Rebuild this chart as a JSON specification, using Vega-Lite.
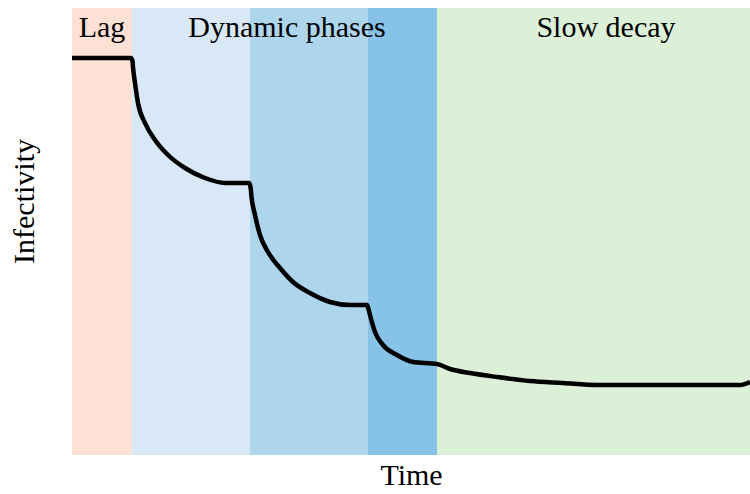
{
  "$schema": "https://vega.github.io/schema/vega-lite/v6.json",
  "autosize": {"type": "none"},
  "width": 678,
  "height": 447,
  "padding": {"left": 72, "top": 8, "right": 0, "bottom": 39},
  "config": {
    "view": {"stroke": null},
    "text": {"font": "Liberation Serif"},
    "axis": {"titleFont": "Liberation Serif"}
  },
  "data": {"values": [
      {"kind": "band", "start": 0, "end": 60, "color": "#fde1d4"},
      {"kind": "band", "start": 60, "end": 178, "color": "#d9e8f6"},
      {"kind": "band", "start": 178, "end": 296, "color": "#add5ec"},
      {"kind": "band", "start": 296, "end": 365, "color": "#87c2e7"},
      {"kind": "band", "start": 365, "end": 678, "color": "#dcefd7"},
      {"kind": "label", "x": 30, "y": 418, "label": "Lag"},
      {"kind": "label", "x": 215, "y": 418, "label": "Dynamic phases"},
      {"kind": "label", "x": 534, "y": 418, "label": "Slow decay"},
      {"kind": "curve", "t": 0, "v": 397}, {"kind": "curve", "t": 59, "v": 397}, {"kind": "curve", "t": 60.5, "v": 394}, {"kind": "curve", "t": 61, "v": 388},
      {"kind": "curve", "t": 63, "v": 372}, {"kind": "curve", "t": 66, "v": 352}, {"kind": "curve", "t": 73, "v": 332}, {"kind": "curve", "t": 83, "v": 315},
      {"kind": "curve", "t": 96, "v": 300}, {"kind": "curve", "t": 113, "v": 287}, {"kind": "curve", "t": 133, "v": 277}, {"kind": "curve", "t": 153, "v": 272},
      {"kind": "curve", "t": 177, "v": 272}, {"kind": "curve", "t": 178.5, "v": 268}, {"kind": "curve", "t": 179.5, "v": 258}, {"kind": "curve", "t": 183, "v": 240},
      {"kind": "curve", "t": 188, "v": 220}, {"kind": "curve", "t": 196, "v": 203}, {"kind": "curve", "t": 208, "v": 187}, {"kind": "curve", "t": 221, "v": 173},
      {"kind": "curve", "t": 238, "v": 162}, {"kind": "curve", "t": 258, "v": 153}, {"kind": "curve", "t": 278, "v": 150}, {"kind": "curve", "t": 295, "v": 150},
      {"kind": "curve", "t": 296.5, "v": 146}, {"kind": "curve", "t": 298, "v": 140}, {"kind": "curve", "t": 303, "v": 123}, {"kind": "curve", "t": 311, "v": 110}, {"kind": "curve", "t": 325, "v": 100},
      {"kind": "curve", "t": 341, "v": 93}, {"kind": "curve", "t": 365, "v": 91}, {"kind": "curve", "t": 378, "v": 86}, {"kind": "curve", "t": 398, "v": 82},
      {"kind": "curve", "t": 425, "v": 78}, {"kind": "curve", "t": 458, "v": 74}, {"kind": "curve", "t": 491, "v": 72}, {"kind": "curve", "t": 525, "v": 70},
      {"kind": "curve", "t": 578, "v": 70}, {"kind": "curve", "t": 628, "v": 70}, {"kind": "curve", "t": 668, "v": 70}, {"kind": "curve", "t": 678, "v": 73}
  ]},
  "layer": [
    {
      "transform": [{"filter": "datum.kind == 'band'"}],
      "mark": {"type": "rect"},
      "encoding": {
        "x": {"field": "start", "type": "quantitative", "scale": {"domain": [0, 678], "nice": false, "zero": false},
              "axis": {"title": "Time", "labels": false, "ticks": false, "domain": false, "grid": false,
                       "titleFontSize": 30, "titleFontWeight": "normal", "titleFont": "Liberation Serif", "titlePadding": 5, "titleColor": "#000"}},
        "x2": {"field": "end"},
        "color": {"field": "color", "type": "nominal", "scale": null}
      }
    },
    {
      "transform": [{"filter": "datum.kind == 'label'"}],
      "mark": {"type": "text", "fontSize": 30, "font": "Liberation Serif", "align": "center", "baseline": "alphabetic", "color": "#000"},
      "encoding": {
        "x": {"field": "x", "type": "quantitative"},
        "y": {"field": "y", "type": "quantitative"},
        "text": {"field": "label"}
      }
    },
    {
      "transform": [{"filter": "datum.kind == 'curve'"}],
      "mark": {"type": "line", "color": "#000", "strokeWidth": 4.5, "strokeJoin": "round", "interpolate": "monotone"},
      "encoding": {
        "x": {"field": "t", "type": "quantitative"},
        "y": {"field": "v", "type": "quantitative", "scale": {"domain": [0, 447], "nice": false, "zero": false},
              "axis": {"title": "Infectivity", "labels": false, "ticks": false, "domain": false, "grid": false,
                       "titleFontSize": 30, "titleFontWeight": "normal", "titleFont": "Liberation Serif", "titlePadding": 33, "titleY": 193, "titleColor": "#000"}}
      }
    }
  ]
}
